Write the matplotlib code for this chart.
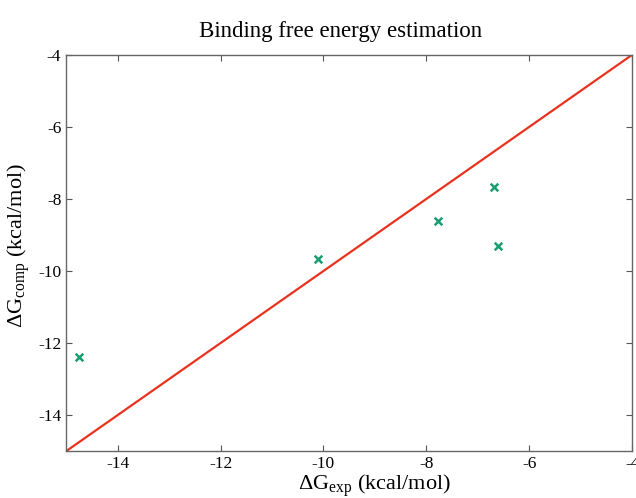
import numpy as np
import matplotlib
matplotlib.use('Agg')
import matplotlib.pyplot as plt

plt.rcParams['font.family'] = 'Liberation Serif'
plt.rcParams['mathtext.fontset'] = 'custom'
plt.rcParams['mathtext.rm'] = 'Liberation Serif'
plt.rcParams['mathtext.it'] = 'Liberation Serif:italic'
plt.rcParams['axes.unicode_minus'] = False

# experimental vs computed binding free energies (kcal/mol)
dg_exp = [-14.75, -10.1, -7.78, -6.68, -6.6]
dg_comp = [-12.4, -9.66, -8.6, -7.68, -9.3]
ideal = [-15, -4]
xticks = [-14, -12, -10, -8, -6, -4]
yticks = [-14, -12, -10, -8, -6, -4]

fig = plt.figure(figsize=(6.36, 4.98), dpi=100)
ax = fig.add_axes([0.104, 0.094, 0.89, 0.796])

ax.plot(ideal, ideal, color='#e8321e', lw=1.6)
ax.scatter(dg_exp, dg_comp, marker='x', color='#1b9e6f', s=30, linewidths=1.8, zorder=3)

ax.set_xlim(-15, -4)
ax.set_ylim(-15, -4)
ax.set_xticks(xticks)
ax.set_yticks(yticks)
ax.tick_params(direction='in', top=True, right=True, labelsize=12.5, length=4,
               color='#555555')
for s in ax.spines.values():
    s.set_color('#666666')
    s.set_linewidth(1.0)

ax.set_title('Binding free energy estimation', fontsize=16.5, pad=13, x=0.485)
ax.set_xlabel(r'$\Delta$G$_{\mathrm{exp}}$ (kcal/mol)', fontsize=16)
ax.set_ylabel(r'$\Delta$G$_{\mathrm{comp}}$ (kcal/mol)', fontsize=16)
ax.xaxis.set_label_coords(0.545, -0.053)
ax.yaxis.set_label_coords(-0.06, 0.52)

fig.savefig('out.png', dpi=100)
